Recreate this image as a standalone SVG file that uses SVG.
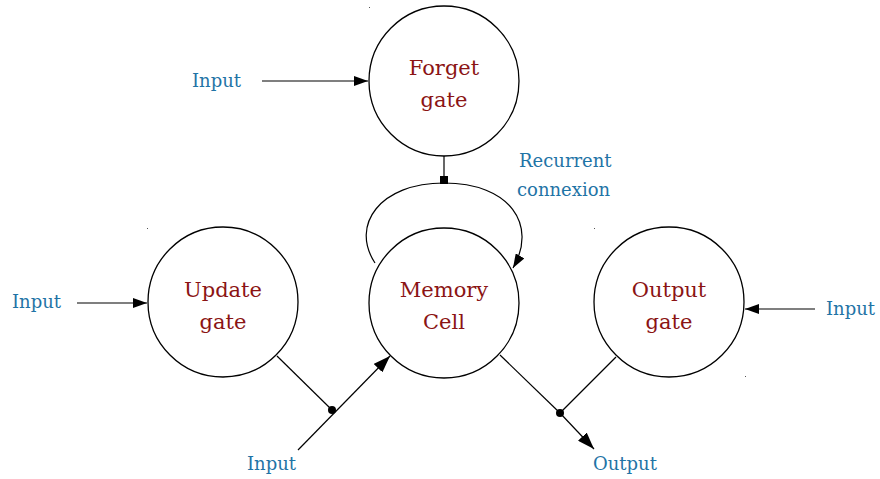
<svg xmlns="http://www.w3.org/2000/svg" width="880" height="479" viewBox="0 0 880 479">
<defs>
<marker id="arr" viewBox="0 0 14 10" refX="14" refY="5" markerWidth="14" markerHeight="10" markerUnits="userSpaceOnUse" orient="auto">
<path d="M0,0 L14,5 L0,10 Z" fill="#000"/>
</marker>
<marker id="arrB" viewBox="0 0 17 12" refX="17" refY="6" markerWidth="17" markerHeight="12" markerUnits="userSpaceOnUse" orient="auto">
<path d="M0,0 L17,6 L0,12 Z" fill="#000"/>
</marker>
</defs>
<style>
.node{fill:#fff;stroke:#000;stroke-width:1.3}
.nt{font-family:"DejaVu Serif","Liberation Serif",serif;font-size:21px;fill:#8b1414;text-anchor:middle}
.lb{font-family:"DejaVu Serif","Liberation Serif",serif;font-size:18px;fill:#1f74a6}
.ln{fill:none;stroke:#000;stroke-width:1.2}
.dot{fill:#000}
.sp{fill:#555}
</style>
<rect width="880" height="479" fill="#fff"/>
<g id="connectors">
<line class="ln" x1="262" y1="81" x2="368" y2="81" marker-end="url(#arr)"/>
<line class="ln" x1="77" y1="303" x2="147" y2="303" marker-end="url(#arr)"/>
<line class="ln" x1="815" y1="309" x2="745" y2="309" marker-end="url(#arr)"/>
<line class="ln" x1="444" y1="156" x2="444" y2="180"/>
<rect x="440" y="176" width="8" height="8" fill="#000"/>
<path class="ln" d="M375,263 C350,225 380,183 444,183 C510,183 538,225 513,268" marker-end="url(#arr)"/>
<line class="ln" x1="277" y1="356" x2="332" y2="410"/>
<line class="ln" x1="298" y1="450" x2="390" y2="356" marker-end="url(#arrB)"/>
<circle class="dot" cx="332" cy="410" r="4"/>
<line class="ln" x1="500" y1="355" x2="560" y2="413"/>
<line class="ln" x1="616" y1="357" x2="560" y2="413"/>
<line class="ln" x1="560" y1="413" x2="594" y2="449" marker-end="url(#arrB)"/>
<circle class="dot" cx="560" cy="413" r="4"/>
</g>
<g id="forget">
<circle class="node" cx="444" cy="81" r="75"/>
<text class="nt" x="444" y="75">Forget</text>
<text class="nt" x="444" y="107">gate</text>
</g>
<g id="memory">
<circle class="node" cx="444" cy="303" r="75"/>
<text class="nt" x="444" y="297">Memory</text>
<text class="nt" x="444" y="329">Cell</text>
</g>
<g id="update">
<circle class="node" cx="223" cy="302" r="75"/>
<text class="nt" x="223" y="297">Update</text>
<text class="nt" x="223" y="329">gate</text>
</g>
<g id="output">
<circle class="node" cx="669" cy="302" r="75"/>
<text class="nt" x="669" y="297">Output</text>
<text class="nt" x="669" y="329">gate</text>
</g>
<g id="labels">
<text class="lb" x="192" y="87">Input</text>
<text class="lb" x="12" y="308">Input</text>
<text class="lb" x="826" y="315">Input</text>
<text class="lb" x="247" y="470">Input</text>
<text class="lb" x="593" y="470">Output</text>
<text class="lb" x="519" y="167">Recurrent</text>
<text class="lb" x="517" y="196">connexion</text>
</g>
<g id="specks">
<rect class="sp" x="369" y="7" width="1" height="1"/>
<rect class="sp" x="147" y="228" width="1" height="1"/>
<rect class="sp" x="594" y="228" width="1" height="1"/>
<rect class="sp" x="745" y="376" width="1" height="1"/>
</g>
</svg>
